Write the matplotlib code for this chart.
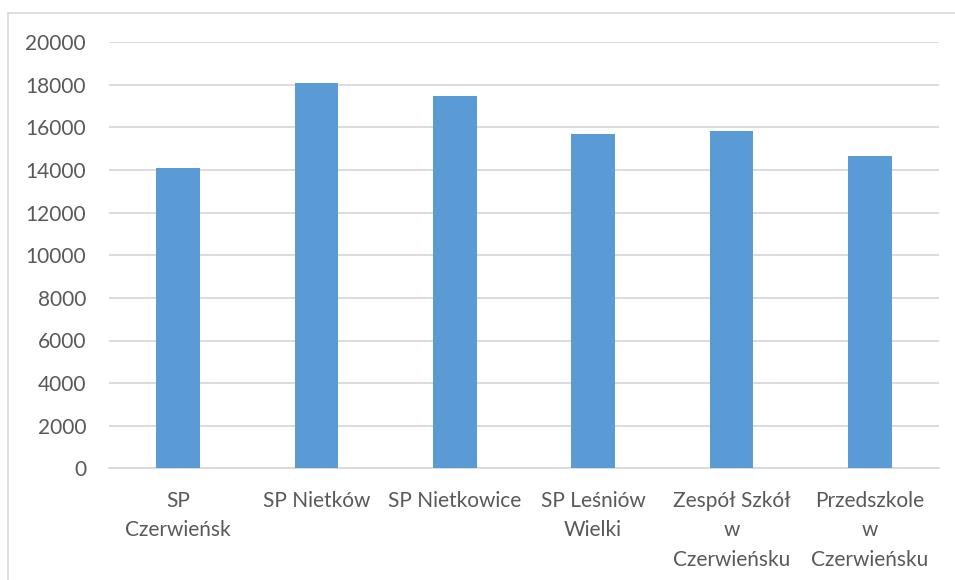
import numpy as np
import matplotlib.pyplot as plt
from matplotlib.patches import Rectangle


schools = ['SP\nCzerwieńsk', 'SP Nietków', 'SP Nietkowice', 'SP Leśniów\nWielki',
           'Zespół Szkół\nw\nCzerwieńsku', 'Przedszkole\nw\nCzerwieńsku']
values = [14080, 18090, 17490, 15680, 15820, 14660]
yticks = [0, 2000, 4000, 6000, 8000, 10000, 12000, 14000, 16000, 18000, 20000]

plt.rcParams['font.family'] = ['Lato', 'DejaVu Sans']
plt.rcParams['font.size'] = 15

fig = plt.figure(figsize=(9.55, 5.8), dpi=100)
ax = fig.add_axes([109/955, 1-468.3/580, 830/955, 426/580])

# chart area border (only left and top visible)
fig.patches.append(Rectangle((8/955, -0.1), 1.2, 1-13/580+0.1, transform=fig.transFigure,
                             fill=False, edgecolor='#d9d9d9', linewidth=1.2))

x = np.arange(len(schools))
ax.bar(x, values, width=0.315, color='#5b9bd5', zorder=3)

ax.set_xlim(-0.5, len(schools)-0.5)
ax.set_ylim(0, 20000)
ax.set_yticks(yticks)
ax.set_yticklabels([str(v) for v in yticks], color='#595959')
ax.set_xticks(x)
ax.set_xticklabels(schools, color='#595959', linespacing=1.6, va='top')
ax.grid(axis='y', color='#d9d9d9', linewidth=1.3, zorder=0)
for s in ['top', 'right', 'left']:
    ax.spines[s].set_visible(False)
ax.spines['bottom'].set_color('#d9d9d9')
ax.spines['bottom'].set_linewidth(1.3)
ax.tick_params(axis='both', length=0)
ax.tick_params(axis='y', pad=16.5)
ax.tick_params(axis='x', pad=16)

plt.savefig('out.png', dpi=100)
